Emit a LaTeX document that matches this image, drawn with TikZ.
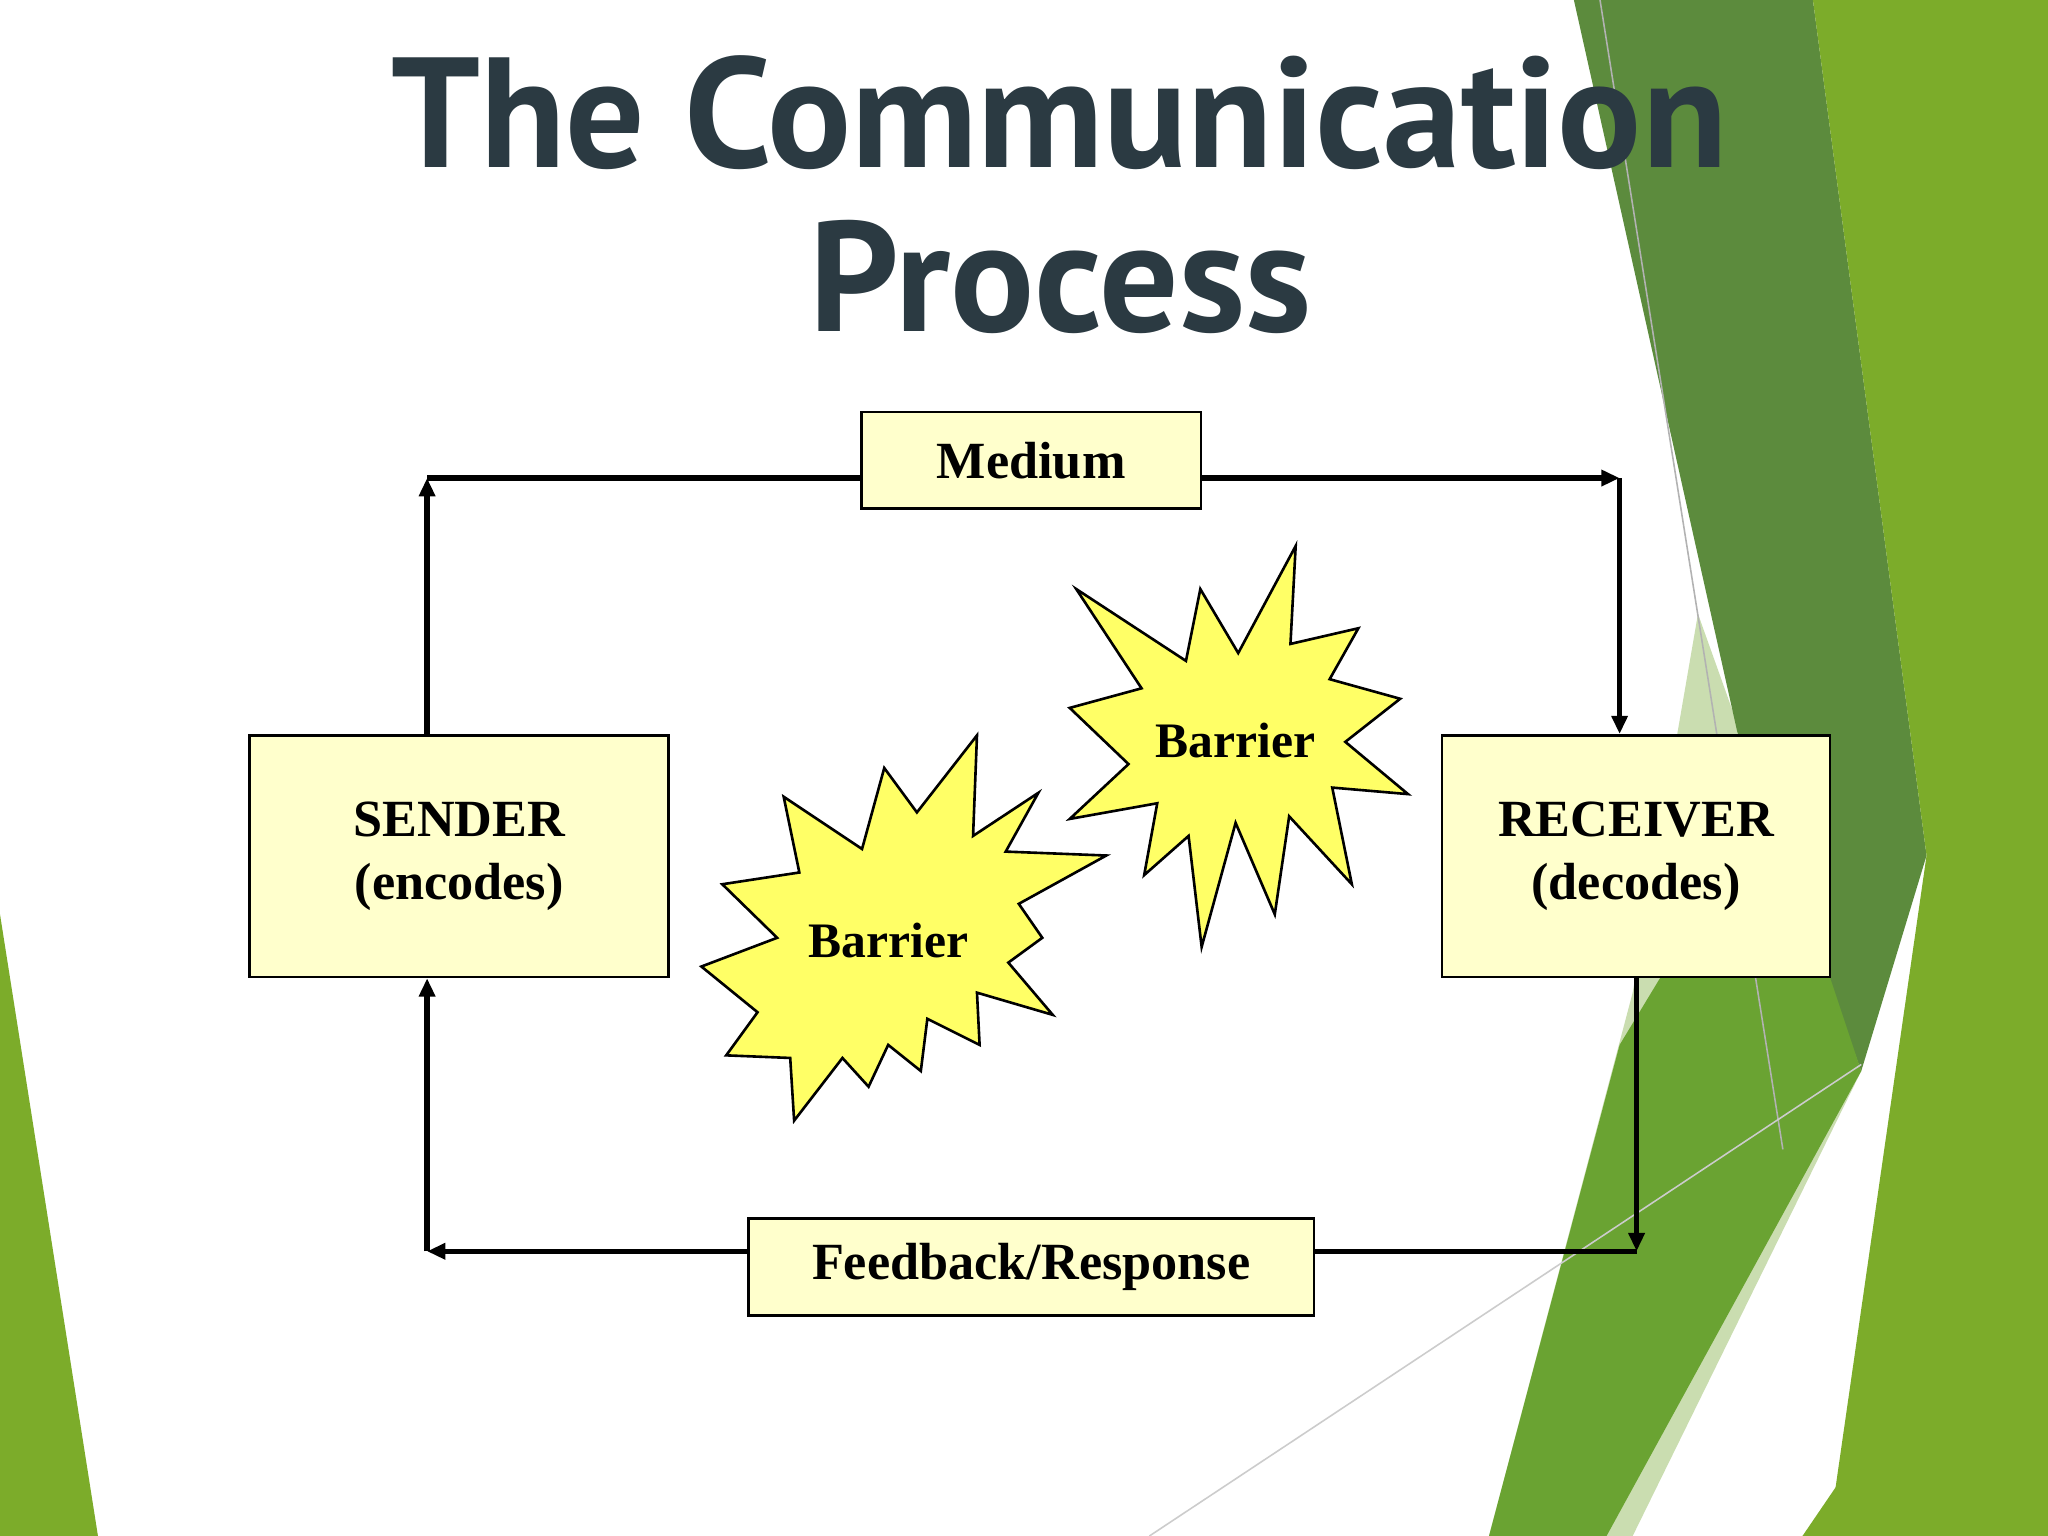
\documentclass[tikz,border=0pt]{standalone}
\usepackage{fontspec}
\setmainfont{Liberation Serif}
\newfontfamily\titlefont{PT Sans}
\usetikzlibrary{arrows.meta}
\definecolor{boxfill}{HTML}{FFFFCC}
\definecolor{starfill}{HTML}{FFFF66}
\definecolor{titlecol}{HTML}{2B3A42}
\definecolor{gA}{HTML}{7CAC2A}
\definecolor{gB}{HTML}{5C8B3D}
\definecolor{gC}{HTML}{6AA332}
\definecolor{gD}{HTML}{CADDB0}
\tikzset{
  box/.style={draw,line width=1pt,fill=boxfill,inner sep=0pt,font=\fontsize{20}{24}\selectfont\bfseries,align=center},
  conn/.style={line width=2pt},
  tip/.style={-{Triangle[length=7pt,width=6pt]}},
  star/.style={draw,line width=1pt,fill=starfill},
  lbl/.style={font=\fontsize{19}{22}\selectfont\bfseries}
}
\begin{document}
\begin{tikzpicture}[x=0.5pt,y=-0.5pt]
\useasboundingbox (0,0) rectangle (1568,1176);
\fill[white] (0,0) rectangle (1568,1176);
% green decoration
\fill[gD] (1300,470) -- (1425,820) -- (1250,1176) -- (1140,1176) -- (1250,760) -- cycle;
\fill[gB] (1205,0) -- (1388,0) -- (1475,655) -- (1425,820) -- (1330,560) -- cycle;
\fill[gA] (1388,0) -- (1568,0) -- (1568,1176) -- (1400,1176) -- (1475,655) -- cycle;
\fill[gC] (1240,800) -- (1355,610) -- (1425,820) -- (1230,1176) -- (1140,1176) -- cycle;
\fill[gA] (1380,1176) -- (1568,900) -- (1568,1176) -- cycle;
\draw[gray!60,line width=0.6pt] (1225,0) -- (1365,880);
\draw[gray!40,line width=0.6pt] (880,1176) -- (1425,815);
\fill[gA] (0,700) -- (0,1176) -- (75,1176) -- cycle;
% title
\node[font=\titlefont\fontsize{60}{62}\selectfont\bfseries,text=titlecol] (t1) at (811,86) {The Communication};
\node[font=\titlefont\fontsize{60}{62}\selectfont\bfseries,text=titlecol] (t2) at (812,212) {Process};
% boxes
\node[box,minimum width=130pt,minimum height=37pt] (med) at (789.5,352.5) {Medium};
\node[box,minimum width=160.5pt,minimum height=92.5pt] (snd) at (351.5,655.5) {SENDER\\(encodes)};
\node[box,minimum width=148.5pt,minimum height=92.5pt] (rcv) at (1252.5,655.5) {RECEIVER\\(decodes)};
\node[box,minimum width=216.5pt,minimum height=37pt] (fb) at (789.5,970) {Feedback/Response};
% connector corners
\coordinate (c1) at (327,366);
\coordinate (c2) at (1240,366);
\coordinate (c3) at (1253,958);
\coordinate (c4) at (327,958);
\draw[conn,tip] (snd.north -| c1) -- (c1);
\draw[conn] (c1) -- (c1 -| med.west);
\draw[conn,tip] (c2 -| med.east) -- (c2);
\draw[conn,tip] (c2) -- (c2 |- rcv.north);
\draw[conn,tip] (rcv.south -| c3) -- (c3);
\draw[conn] (c3) -- (c3 -| fb.east);
\draw[conn,tip] (c4 -| fb.west) -- (c4);
\draw[conn,tip] (c4) -- (c4 |- snd.south);
% stars
\draw[star] (748,563)--(745,640)--(795,607)--(770,652)--(847,655)--(780,692)--(798,718)--(772,737)--(806,777)--(748,760)--(750,800)--(710,780)--(705,820)--(680,800)--(665,832)--(645,810)--(608,858)--(605,810)--(556,808)--(580,775)--(537,740)--(595,718)--(553,677)--(612,668)--(600,610)--(660,650)--(677,588)--(702,622)--cycle;
\node[lbl] (b1) at (680,720) {Barrier};
\draw[star] (992,418)--(988,493)--(1040,481)--(1018,520)--(1072,535)--(1030,568)--(1078,608)--(1020,603)--(1035,677)--(987,625)--(976,700)--(946,630)--(920,725)--(910,640)--(876,670)--(886,615)--(819,627)--(864,585)--(819,542)--(874,527)--(824,451)--(908,506)--(919,451)--(948,500)--cycle;
\node[lbl] (b2) at (946,567) {Barrier};
\end{tikzpicture}
\end{document}
